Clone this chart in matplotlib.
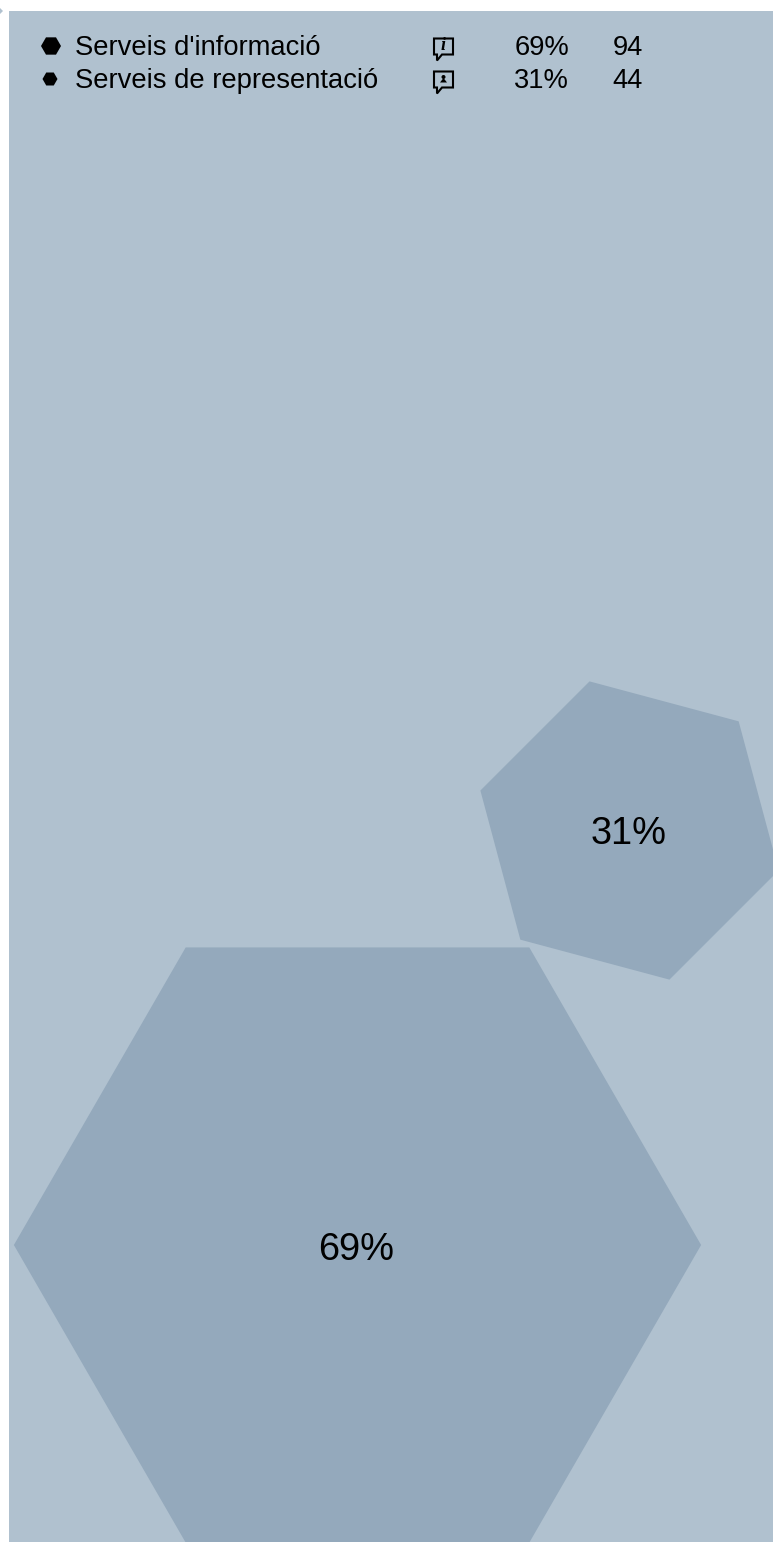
import numpy as np
import matplotlib
matplotlib.use("Agg")
import matplotlib.pyplot as plt
from matplotlib.patches import RegularPolygon, Rectangle, Polygon, Circle

labels = ["Serveis d'informació", "Serveis de representació"]
percents = [69, 31]
counts = [94, 44]

W, H = 773, 1542
BG = "#b0c1cf"
HEX = "#94a9bc"
INK = "#000000"
plt.rcParams["font.family"] = ["Liberation Sans", "DejaVu Sans"]

fig = plt.figure(figsize=(W / 100, H / 100), dpi=100, facecolor="white")
ax = fig.add_axes([0, 0, 1, 1])
ax.set_xlim(0, W)
ax.set_ylim(H, 0)
ax.axis("off")

panel = Rectangle((9, 11), W - 9, H - 11, fc=BG, ec="none", zorder=0)
ax.add_patch(panel)
ax.add_patch(Polygon([(0, 8), (3, 11), (0, 14)], closed=True, fc=BG, ec="none", zorder=0))

# Bubbles: radius proportional to the share
scale = 4.98
centres = [(357.5, 1245), (629.5, 830.5)]
rotations = [np.radians(30), np.radians(-15)]
label_xy = [(356, 1250), (628.5, 834)]
for pct, (cx, cy), rot, (lx, ly) in zip(percents, centres, rotations, label_xy):
    hexagon = RegularPolygon((cx, cy), 6, radius=pct * scale, orientation=rot,
                             fc=HEX, ec="none", zorder=1)
    ax.add_patch(hexagon)
    hexagon.set_clip_path(panel)
    ax.text(lx, ly, f"{pct}%", ha="center", va="center",
            fontsize=27.4, color=INK, zorder=3)

# Legend rows
rows_y = [47, 80]
marker_r = [10, 7.5]
for i, y in enumerate(rows_y):
    ax.add_patch(RegularPolygon((51 if i == 0 else 50, y - 1), 6, radius=marker_r[i],
                                orientation=np.radians(30), fc=INK, ec="none", zorder=3))
    ax.text(75, y + 1, labels[i], ha="left", va="center", fontsize=19.75, color=INK, zorder=3)
    ax.text(569, y + 1, f"{percents[i]}%", ha="right", va="center", fontsize=19.75, color=INK, zorder=3)
    ax.text(642.5, y + 1, f"{counts[i]}", ha="right", va="center", fontsize=19.75, color=INK, zorder=3)

    # speech-bubble icon
    top = y - 8.5
    bx = [434, 453, 453, 442, 437, 437, 434]
    by = [top, top, top + 16, top + 16, top + 22, top + 16, top + 16]
    ax.add_patch(Polygon(list(zip(bx, by)), closed=True, fc="none", ec=INK, lw=1.5, zorder=3))
    if i == 0:
        ax.text(443.5, top + 7.5, "i", ha="center", va="center", fontsize=13,
                family="Liberation Serif", style="italic", fontweight="bold", color=INK, zorder=3)
    else:
        ax.add_patch(Circle((443.5, top + 5.5), 2, fc=INK, ec="none", zorder=3))
        ax.add_patch(Polygon([(440, top + 11), (443.5, top + 6.5), (447, top + 11)], closed=True,
                             fc=INK, ec="none", zorder=3))

fig.savefig("out.png", dpi=100, facecolor="white")
